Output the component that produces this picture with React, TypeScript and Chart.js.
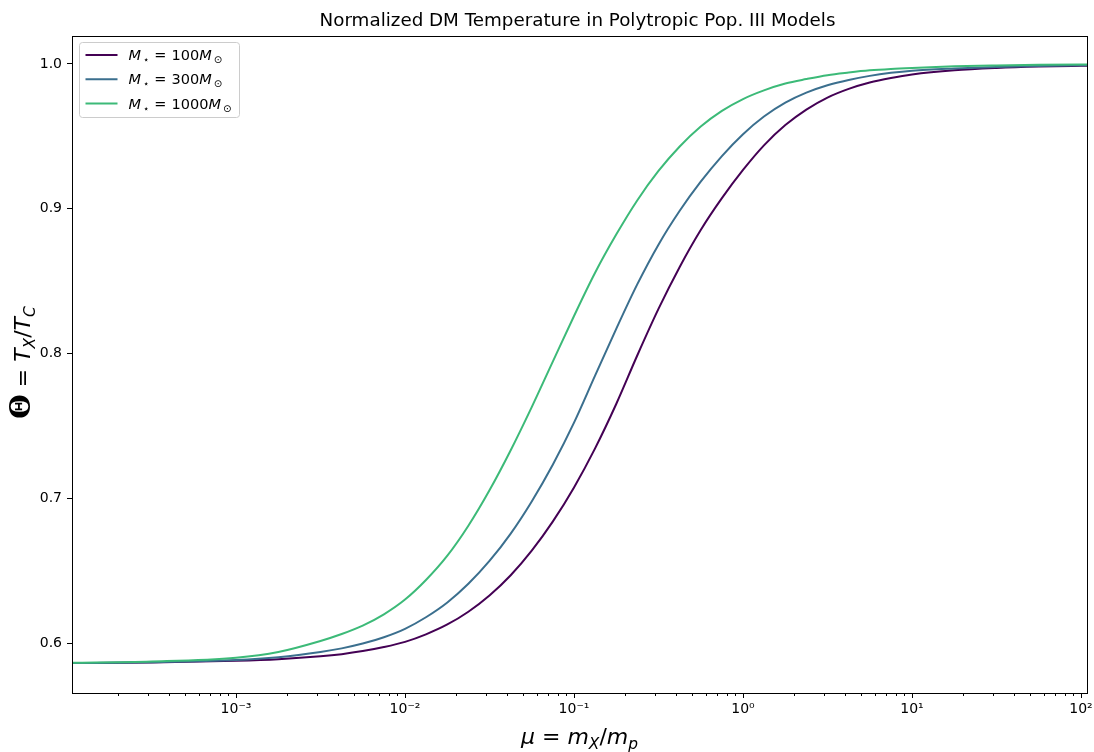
import React, { useEffect, useRef } from "react";
import { Chart, registerables } from "chart.js";

Chart.register(...registerables);

// mu = m_X / m_p  (log-spaced sample points)
const MU = [
  1e-4, 3.16e-4, 1e-3, 1.78e-3, 3.16e-3, 4.22e-3, 5.62e-3, 7.5e-3, 0.01, 0.0133,
  0.0178, 0.0237, 0.0316, 0.0422, 0.0562, 0.075, 0.1, 0.133, 0.178, 0.237,
  0.316, 0.422, 0.562, 0.75, 1, 1.33, 1.78, 2.37, 3.16, 4.22,
  5.62, 7.5, 10, 17.8, 31.6, 56.2, 100, 112,
];

const THETA_100 = [
  0.5861, 0.5865, 0.5877, 0.5888, 0.5908, 0.5923, 0.5944, 0.5972, 0.6008, 0.606,
  0.6128, 0.6216, 0.6328, 0.6468, 0.6638, 0.684, 0.7075, 0.7343, 0.7653, 0.7988,
  0.8308, 0.8598, 0.8853, 0.9073, 0.9268, 0.9438, 0.9578, 0.9685, 0.9768, 0.9828,
  0.9872, 0.9903, 0.9927, 0.9956, 0.9972, 0.9982, 0.9988, 0.9989,
];

const THETA_300 = [
  0.5861, 0.5867, 0.5882, 0.5902, 0.5938, 0.5963, 0.5996, 0.604, 0.6098, 0.6178,
  0.628, 0.6409, 0.6567, 0.6756, 0.6978, 0.7233, 0.7522, 0.7845, 0.8172, 0.8479,
  0.8752, 0.8986, 0.9187, 0.9364, 0.9515, 0.9637, 0.9733, 0.9802, 0.9853, 0.989,
  0.9918, 0.9939, 0.9954, 0.9969, 0.9979, 0.9986, 0.9991, 0.9992,
];

const THETA_1000 = [
  0.5863, 0.5872, 0.5898, 0.5938, 0.6014, 0.6062, 0.612, 0.6198, 0.63, 0.6435,
  0.6603, 0.681, 0.7055, 0.7332, 0.763, 0.7946, 0.8259, 0.8556, 0.8823, 0.9059,
  0.9261, 0.943, 0.9568, 0.9676, 0.9758, 0.9818, 0.9865, 0.9896, 0.9923, 0.9941,
  0.9956, 0.9966, 0.9973, 0.9984, 0.999, 0.9994, 0.9996, 0.9996,
];

const STAR_MASSES = ["100", "300", "1000"];
const X_TICKS = [1e-3, 1e-2, 1e-1, 1, 10, 100];
const X_TICK_LABELS = ["10⁻³", "10⁻²", "10⁻¹", "10⁰", "10¹", "10²"];
const Y_TICKS = [0.6, 0.7, 0.8, 0.9, 1.0];
const TITLE = "Normalized DM Temperature in Polytropic Pop. III Models";

const FAM = '"DejaVu Sans", "Noto Sans", sans-serif';
const SERIF = '"DejaVu Serif", serif';

type Seg = {
  t: string;
  it?: boolean;
  sub?: boolean;
  scale?: number;
  bold?: boolean;
  serif?: boolean;
  pad?: number;
};

function segFont(s: Seg, base: number) {
  const size = s.sub ? base * 0.7 : base * (s.scale || 1);
  return `${s.it ? "italic " : ""}${s.bold ? "bold " : ""}${size}px ${s.serif ? SERIF : FAM}`;
}

function drawRich(
  ctx: CanvasRenderingContext2D,
  segs: Seg[],
  x: number,
  y: number,
  base: number,
  align: "left" | "center"
) {
  ctx.textAlign = "left";
  ctx.textBaseline = "alphabetic";
  const widths = segs.map((s) => {
    ctx.font = segFont(s, base);
    return ctx.measureText(s.t).width + (s.pad || 0);
  });
  const total = widths.reduce((a, b) => a + b, 0);
  let cx = align === "center" ? x - total / 2 : x;
  segs.forEach((s, i) => {
    ctx.font = segFont(s, base);
    ctx.fillText(s.t, cx, y + (s.sub ? base * 0.22 : 0));
    cx += widths[i];
  });
}

const COLORS = ["#440154", "#3b6f8e", "#3cba78"];

const decorPlugin = {
  id: "decor",
  afterDraw(chart: any) {
    const ctx: CanvasRenderingContext2D = chart.ctx;
    const a = chart.chartArea;
    const xs = chart.scales.x;
    ctx.save();
    // frame
    ctx.strokeStyle = "#000";
    ctx.lineWidth = 1;
    ctx.strokeRect(Math.round(a.left) + 0.5, Math.round(a.top) + 0.5, Math.round(a.right - a.left), Math.round(a.bottom - a.top));

    // minor ticks on log axis
    ctx.beginPath();
    for (let d = -5; d <= 3; d++) {
      for (let k = 2; k <= 9; k++) {
        const v = k * Math.pow(10, d);
        if (v < xs.min || v > xs.max) continue;
        const px = Math.round(xs.getPixelForValue(v)) + 0.5;
        ctx.moveTo(px, a.bottom);
        ctx.lineTo(px, a.bottom + 3);
      }
    }
    ctx.stroke();

    ctx.fillStyle = "#000";
    // title
    ctx.font = `18.3px ${FAM}`;
    ctx.textAlign = "center";
    ctx.textBaseline = "alphabetic";
    ctx.fillText(TITLE, (a.left + a.right) / 2 - 2, 26);

    // x label
    drawRich(
      ctx,
      [
        { t: "μ", it: true },
        { t: " = " },
        { t: "m", it: true },
        { t: "X", it: true, sub: true },
        { t: "/" },
        { t: "m", it: true },
        { t: "p", it: true, sub: true },
      ],
      (a.left + a.right) / 2,
      744,
      22,
      "center"
    );

    // y label
    ctx.save();
    ctx.translate(30, (a.top + a.bottom) / 2 - 2);
    ctx.rotate(-Math.PI / 2);
    drawRich(
      ctx,
      [
        { t: "Θ", scale: 1.28, bold: true, serif: true },
        { t: " = " },
        { t: "T", it: true },
        { t: "X", it: true, sub: true },
        { t: "/" },
        { t: "T", it: true },
        { t: "C", it: true, sub: true },
      ],
      0,
      0,
      22,
      "center"
    );
    ctx.restore();

    // legend
    const bx = a.left + 7.5,
      by = a.top + 6.5,
      bw = 160,
      bh = 75,
      r = 3;
    ctx.beginPath();
    ctx.moveTo(bx + r, by);
    ctx.lineTo(bx + bw - r, by);
    ctx.quadraticCurveTo(bx + bw, by, bx + bw, by + r);
    ctx.lineTo(bx + bw, by + bh - r);
    ctx.quadraticCurveTo(bx + bw, by + bh, bx + bw - r, by + bh);
    ctx.lineTo(bx + r, by + bh);
    ctx.quadraticCurveTo(bx, by + bh, bx, by + bh - r);
    ctx.lineTo(bx, by + r);
    ctx.quadraticCurveTo(bx, by, bx + r, by);
    ctx.closePath();
    ctx.fillStyle = "rgba(255,255,255,0.8)";
    ctx.fill();
    ctx.strokeStyle = "#cccccc";
    ctx.lineWidth = 1;
    ctx.stroke();

    STAR_MASSES.forEach((m, i) => {
      const ry = by + 12.5 + i * 24.3;
      ctx.strokeStyle = chart.data.datasets[i].borderColor;
      ctx.lineWidth = 2;
      ctx.beginPath();
      ctx.moveTo(bx + 6, ry);
      ctx.lineTo(bx + 38, ry);
      ctx.stroke();
      ctx.fillStyle = "#000";
      drawRich(
        ctx,
        [
          { t: "M", it: true, pad: 2 },
          { t: "⋆", sub: true, pad: 5 },
          { t: "=", pad: 5 },
          { t: m },
          { t: "M", it: true, pad: 2 },
          { t: "⊙", sub: true },
        ],
        bx + 49,
        ry + 5,
        14.5,
        "left"
      );
    });
    ctx.restore();
  },
};

export default function App() {
  const ref = useRef<HTMLCanvasElement | null>(null);

  useEffect(() => {
    if (!ref.current) return;
    const mk = (vals: number[]) => MU.map((m, i) => ({ x: m, y: vals[i] }));
    const series = [THETA_100, THETA_300, THETA_1000];
    const chart = new Chart(ref.current, {
      type: "line",
      data: {
        datasets: series.map((vals, i) => ({
          label: `M⋆ = ${STAR_MASSES[i]}M⊙`,
          data: mk(vals),
          borderColor: COLORS[i],
          backgroundColor: COLORS[i],
          borderWidth: 2,
          pointRadius: 0,
          cubicInterpolationMode: "monotone" as const,
          fill: false,
          order: 2 - i,
        })),
      },
      options: {
        responsive: false,
        animation: false,
        events: [],
        layout: { padding: { top: 36, right: 7, bottom: 0, left: 0 } },
        plugins: {
          legend: { display: false },
          title: { display: false },
          tooltip: { enabled: false },
        },
        scales: {
          x: {
            type: "logarithmic",
            min: 1.07e-4,
            max: 108.5,
            afterBuildTicks: (s: any) => {
              s.ticks = X_TICKS.map((v) => ({ value: v }));
            },
            afterFit: (s: any) => {
              s.height = 59;
              s.paddingLeft = 0;
              s.paddingRight = 0;
            },
            grid: {
              display: true,
              drawOnChartArea: false,
              drawTicks: true,
              tickLength: 5,
              tickColor: "#000",
              tickWidth: 1,
            },
            border: { display: true, color: "#000", width: 1 },
            ticks: {
              autoSkip: false,
              maxRotation: 0,
              minRotation: 0,
              padding: 3,
              color: "#000",
              font: { family: FAM, size: 14 },
              callback: (_v: any, i: number) => X_TICK_LABELS[i],
            },
          },
          y: {
            type: "linear",
            min: 0.56546,
            max: 1.01934,
            afterBuildTicks: (s: any) => {
              s.ticks = Y_TICKS.map((v) => ({ value: v }));
            },
            afterFit: (s: any) => {
              s.width = 72;
              s.paddingTop = 0;
              s.paddingBottom = 0;
            },
            grid: {
              display: true,
              drawOnChartArea: false,
              drawTicks: true,
              tickLength: 5,
              tickColor: "#000",
              tickWidth: 1,
            },
            border: { display: true, color: "#000", width: 1 },
            ticks: {
              padding: 5,
              color: "#000",
              font: { family: FAM, size: 14 },
              callback: (v: any) => Number(v).toFixed(1),
            },
          },
        },
      },
      plugins: [decorPlugin],
    });
    return () => chart.destroy();
  }, []);

  return (
    <div style={{ position: "absolute", left: 0, top: 0, width: 1094, height: 752, background: "#fff" }}>
      <canvas ref={ref} width={1094} height={752} style={{ display: "block" }} />
    </div>
  );
}
